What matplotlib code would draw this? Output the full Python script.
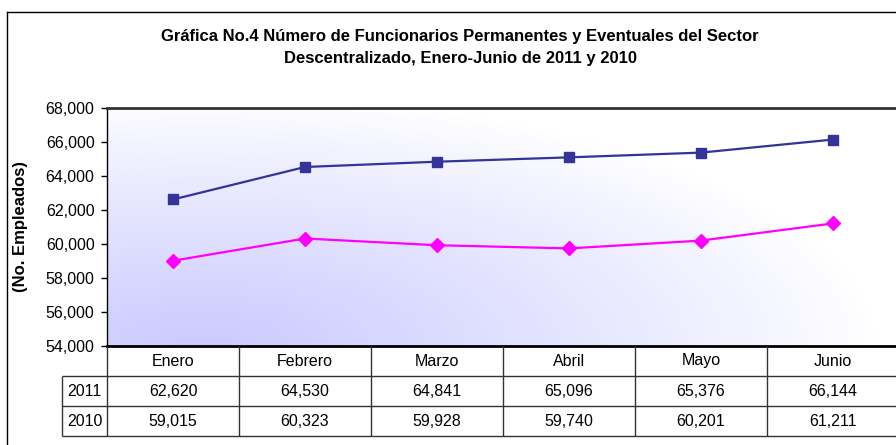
import numpy as np
import matplotlib.pyplot as plt
from matplotlib.lines import Line2D
from matplotlib.ticker import FuncFormatter

plt.rcParams['font.family'] = ['Liberation Sans', 'DejaVu Sans']

# data
meses = ["Enero", "Febrero", "Marzo", "Abril", "Mayo", "Junio"]
series_names = ["2011", "2010"]
v2011 = [62620, 64530, 64841, 65096, 65376, 66144]
v2010 = [59015, 60323, 59928, 59740, 60201, 61211]

W, H = 896, 445
fig = plt.figure(figsize=(W / 100, H / 100), dpi=100)

# plot area in pixels: x 107..899, y 108..346
ax = fig.add_axes([107 / W, 1 - 346 / H, 792 / W, 238 / H])

# gradient background (lavender bottom-left fading to white)
gx, gy = np.meshgrid(np.linspace(0, 1, 400), np.linspace(0, 1, 200))
d = np.sqrt(((gx - 0.12) / 0.85) ** 2 + (gy / 1.05) ** 2)
t = np.clip(1 - d, 0, 1) ** 0.9
lav = np.array([202, 202, 255]) / 255.0
img = 1 - t[..., None] * (1 - lav)
ax.imshow(img, extent=[0, 1, 0, 1], transform=ax.transAxes, origin="lower",
          aspect="auto", zorder=0)

x = np.arange(len(meses))
ax.plot(x, v2011, color="#333399", lw=1.6, marker="s", ms=7, zorder=3)
ax.plot(x, v2010, color="#FF00FF", lw=1.6, marker="D", ms=7.5, zorder=3)

ax.set_xlim(-0.5, 5.5)
ax.set_ylim(54000, 68000)
ax.set_yticks(np.arange(54000, 68001, 2000))
ax.yaxis.set_major_formatter(FuncFormatter(lambda v, p: f"{int(v):,}"))
ax.tick_params(axis="y", direction="out", length=4, width=1, labelsize=11.5, pad=5)
ax.set_xticks([])
ax.spines["right"].set_visible(False)
ax.spines["top"].set_linewidth(2)
ax.spines["top"].set_color("#333333")
ax.spines["bottom"].set_linewidth(2)
ax.spines["left"].set_linewidth(1)
ax.set_ylabel("(No. Empleados)", fontsize=12, fontweight="bold")
ax.yaxis.set_label_coords(-79 / 792, 0.5)

# data table below the plot area
tab = fig.add_axes([62 / W, 1 - 436 / H, 837 / W, 90 / H])
lab_w = 45 / 132
tab.set_xlim(-0.5 - lab_w, 5.5)
tab.set_ylim(0, 3)
tab.axis("off")
rows = [v2011, v2010]
for i, m in enumerate(meses):
    tab.text(i, 2.5, m, ha="center", va="center", fontsize=11.5)
    for r, vals in enumerate(rows):
        tab.text(i, 1.5 - r, f"{vals[i]:,}", ha="center", va="center", fontsize=11.5)
for r, name in enumerate(series_names):
    tab.text(-0.5 - lab_w / 2, 1.5 - r, name, ha="center", va="center", fontsize=11.5)

lc = "#333333"
tab.hlines([0, 1, 2], -0.5 - lab_w, 5.5, colors=lc, lw=1, clip_on=False)
tab.vlines(-0.5 - lab_w, 0, 2, colors=lc, lw=1, clip_on=False)
tab.vlines(np.arange(-0.5, 5.6, 1), 0, 3, colors=lc, lw=1, clip_on=False)

# outer chart border
fig.add_artist(Line2D([7 / W, 7 / W], [0, 1 - 12 / H], color="black", lw=1))
fig.add_artist(Line2D([7 / W, 1], [1 - 12 / H, 1 - 12 / H], color="black", lw=1))

fig.text(460 / W, 1 - 36 / H,
         "Gráfica No.4 Número de Funcionarios Permanentes y Eventuales del Sector",
         ha="center", va="center", fontsize=12, fontweight="bold")
fig.text(460 / W, 1 - 58 / H, "Descentralizado, Enero-Junio de 2011 y 2010",
         ha="center", va="center", fontsize=12, fontweight="bold")

fig.savefig("out.png", dpi=100)
